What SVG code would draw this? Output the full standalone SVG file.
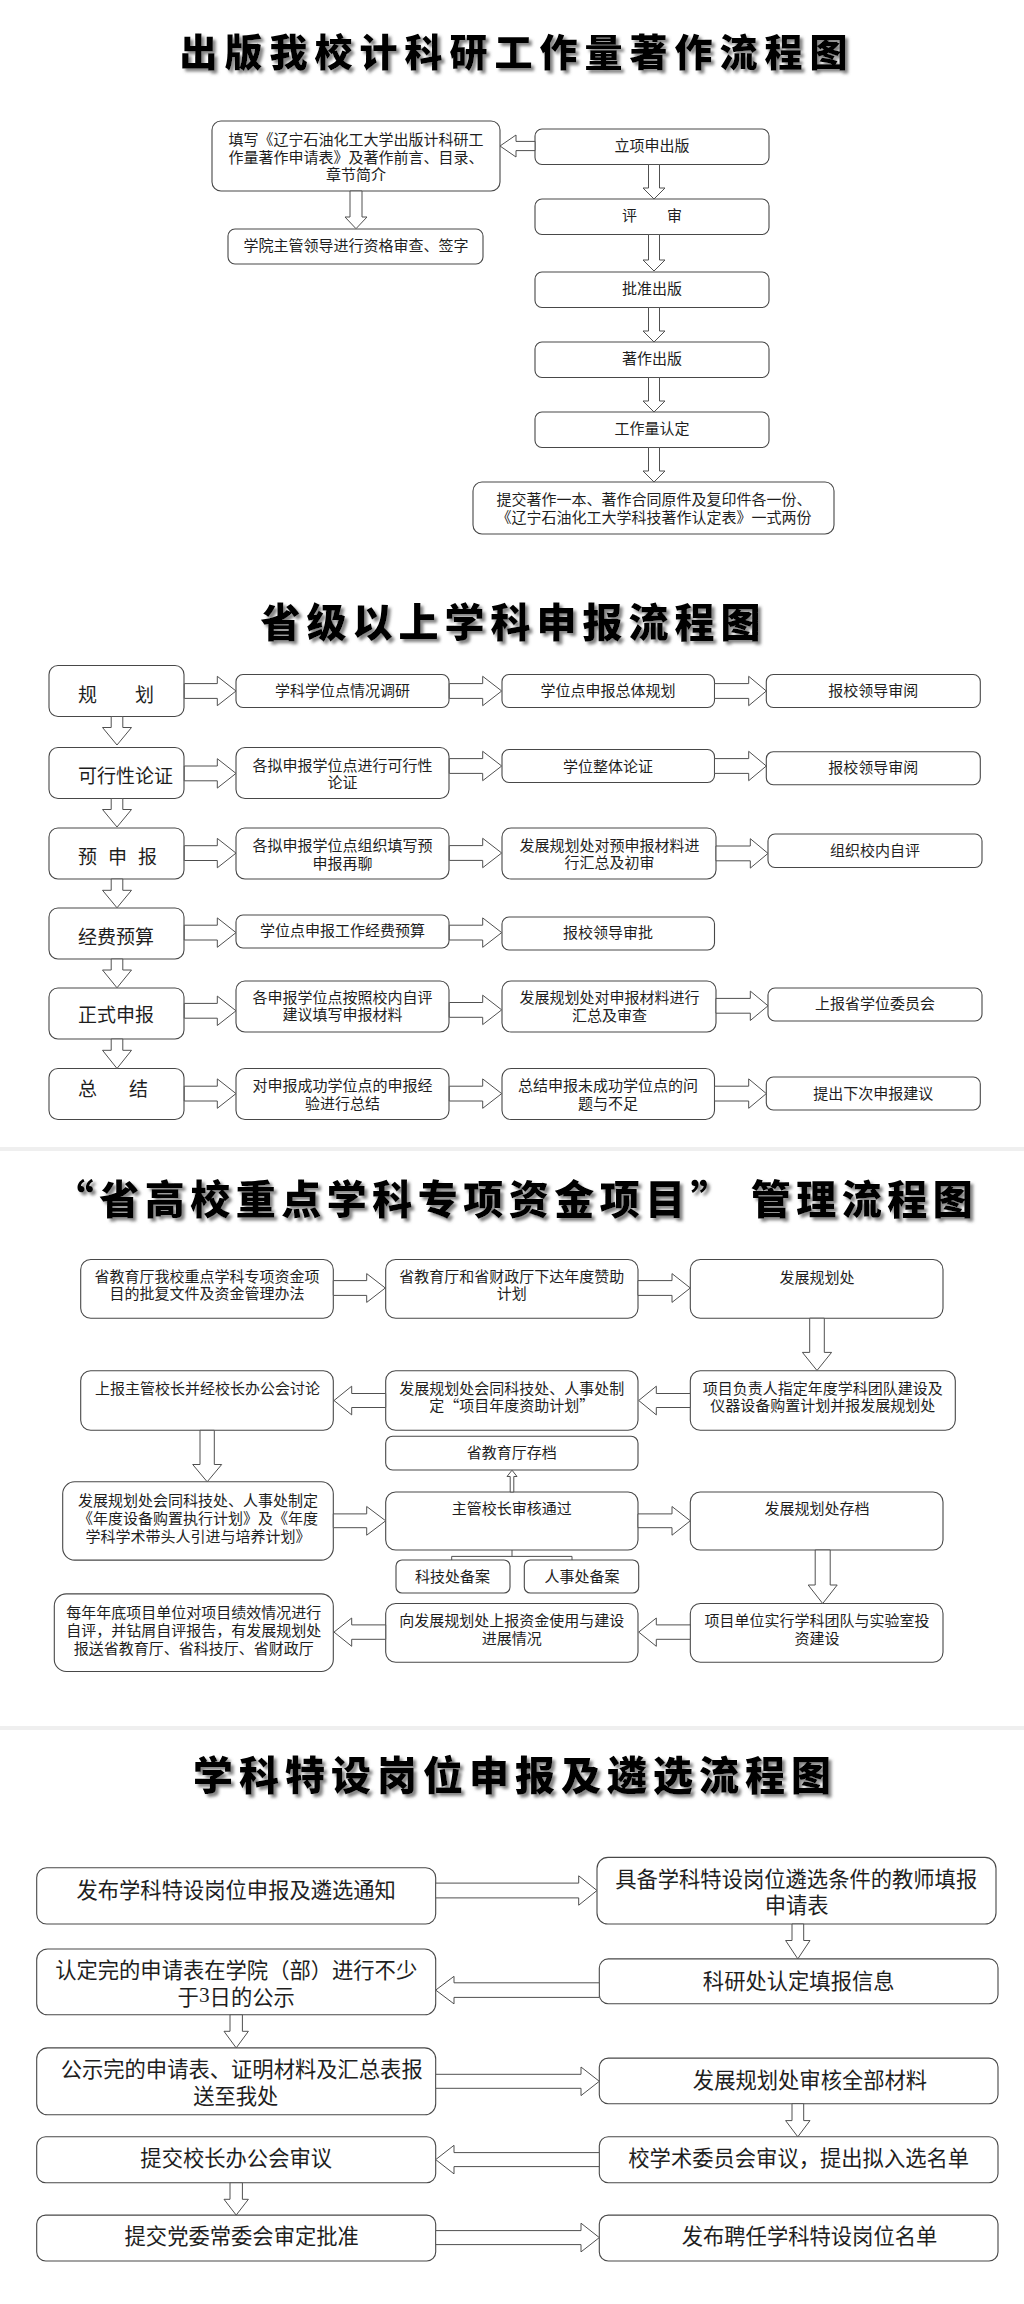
<svg xmlns="http://www.w3.org/2000/svg" width="1024" height="2304" viewBox="0 0 1024 2304">
<defs>
<filter id="sh" x="-5%" y="-20%" width="110%" height="150%">
<feDropShadow dx="3" dy="3" stdDeviation="1.6" flood-color="#777" flood-opacity="0.9"/>
</filter>
<style>
.box{fill:#fff;stroke:#484848;stroke-width:1.1}
.arr{fill:#fff;stroke:#505050;stroke-width:1}
.ln{fill:none;stroke:#505050;stroke-width:1}
text{font-family:"Noto Sans CJK SC","Noto Sans",sans-serif;fill:#1e1e1e;dominant-baseline:central}
.t{font-size:15px;text-anchor:middle}
.t19{font-size:19px;text-anchor:start}
.t21{font-size:21.3px;text-anchor:middle}
.title{font-weight:900;fill:#000;text-anchor:middle;filter:url(#sh)}
.sep{fill:#efefef}
</style>
</defs>
<rect width="1024" height="2304" fill="#fff"/>
<rect class="sep" x="0" y="1147" width="1024" height="4"/>
<rect class="sep" x="0" y="1726" width="1024" height="4"/>

<!-- Section 1 -->
<text class="title" x="517" y="49" font-size="38" letter-spacing="7">出版我校计科研工作量著作流程图</text>
<g id="s1-apply"><rect class="box" x="212" y="121" width="288" height="70" rx="9"/>
<text class="t" x="356" y="138.5">填写《辽宁石油化工大学出版计科研工</text>
<text class="t" x="356" y="156">作量著作申请表》及著作前言、目录、</text>
<text class="t" x="356" y="173.5">章节简介</text></g>
<g id="s1-check"><rect class="box" x="228" y="229" width="255" height="35" rx="7"/><text class="t" x="356" y="244">学院主管领导进行资格审查、签字</text></g>
<g id="s1-start"><rect class="box" x="535" y="129" width="234" height="35.5" rx="7"/><text class="t" x="652" y="144">立项申出版</text></g>
<g id="s1-review"><rect class="box" x="535" y="199" width="234" height="35.5" rx="7"/><text class="t" x="652" y="214">评　　审</text></g>
<g id="s1-approve"><rect class="box" x="535" y="272" width="234" height="35.5" rx="7"/><text class="t" x="652" y="287">批准出版</text></g>
<g id="s1-publish"><rect class="box" x="535" y="342" width="234" height="35.5" rx="7"/><text class="t" x="652" y="357">著作出版</text></g>
<g id="s1-workload"><rect class="box" x="535" y="412" width="234" height="35.5" rx="7"/><text class="t" x="652" y="427">工作量认定</text></g>
<g id="s1-submit"><rect class="box" x="473" y="482" width="361" height="52" rx="9"/>
<text class="t" x="654" y="498">提交著作一本、著作合同原件及复印件各一份、</text>
<text class="t" x="654" y="516">《辽宁石油化工大学科技著作认定表》一式两份</text></g>
<g id="s1-connectors">
<path class="arr" d="M535,141.4 H516 V135 L500,146 L516,157 V150.6 H535 Z"/>
<path class="arr" d="M350,191 V217 H345 L356,228.7 L367,217 H362 V191 Z"/>
<path class="arr" d="M648.5,164.5 V188 H643 L654,199 L665,188 H659.5 V164.5 Z"/>
<path class="arr" d="M648.5,234.5 V260 H643 L654,271 L665,260 H659.5 V234.5 Z"/>
<path class="arr" d="M648.5,307.5 V331 H643 L654,342 L665,331 H659.5 V307.5 Z"/>
<path class="arr" d="M648.5,377.5 V401 H643 L654,412 L665,401 H659.5 V377.5 Z"/>
<path class="arr" d="M648.5,447.5 V471 H643 L654,482 L665,471 H659.5 V447.5 Z"/>
</g>

<!-- Section 2 -->
<text class="title" x="513.5" y="620" font-size="40" letter-spacing="6">省级以上学科申报流程图</text>
<g id="s2-c1r1"><rect class="box" x="49" y="665.5" width="135" height="51" rx="9"/><text class="t19" x="78" y="693">规　　划</text></g>
<g id="s2-c1r2"><rect class="box" x="49" y="747.5" width="135" height="51" rx="9"/><text class="t19" x="78" y="774.5">可行性论证</text></g>
<g id="s2-c1r3"><rect class="box" x="49" y="828" width="135" height="51" rx="9"/><text class="t19" x="78" y="855.3" letter-spacing="-4">预　申　报</text></g>
<g id="s2-c1r4"><rect class="box" x="49" y="908" width="135" height="51" rx="9"/><text class="t19" x="78" y="935.3">经费预算</text></g>
<g id="s2-c1r5"><rect class="box" x="49" y="988" width="135" height="51" rx="9"/><text class="t19" x="78" y="1013">正式申报</text></g>
<g id="s2-c1r6"><rect class="box" x="49" y="1068.5" width="135" height="51" rx="9"/><text class="t19" x="78" y="1087" letter-spacing="-2">总　　结</text></g>

<g id="s2-c2r1"><rect class="box" x="236" y="674.5" width="213" height="33" rx="7"/><text class="t" x="342.5" y="689.6">学科学位点情况调研</text></g>
<g id="s2-c2r2"><rect class="box" x="236" y="747.5" width="213" height="51" rx="9"/><text class="t" x="342.5" y="764.4">各拟申报学位点进行可行性</text><text class="t" x="342.5" y="781.5">论证</text></g>
<g id="s2-c2r3"><rect class="box" x="236" y="828" width="213" height="51" rx="9"/><text class="t" x="342.5" y="844.4">各拟申报学位点组织填写预</text><text class="t" x="342.5" y="862.4">申报再聊</text></g>
<g id="s2-c2r4"><rect class="box" x="236" y="915" width="213" height="33" rx="7"/><text class="t" x="342.5" y="929">学位点申报工作经费预算</text></g>
<g id="s2-c2r5"><rect class="box" x="236" y="981" width="213" height="51" rx="9"/><text class="t" x="342.5" y="996.4">各申报学位点按照校内自评</text><text class="t" x="342.5" y="1013.9">建议填写申报材料</text></g>
<g id="s2-c2r6"><rect class="box" x="236" y="1068.5" width="213" height="51" rx="9"/><text class="t" x="342.5" y="1084.6">对申报成功学位点的申报经</text><text class="t" x="342.5" y="1102">验进行总结</text></g>

<g id="s2-c3r1"><rect class="box" x="502" y="674.5" width="212.5" height="33" rx="7"/><text class="t" x="608" y="689.6">学位点申报总体规划</text></g>
<g id="s2-c3r2"><rect class="box" x="502" y="749.5" width="212.5" height="33" rx="7"/><text class="t" x="608" y="765">学位整体论证</text></g>
<g id="s2-c3r3"><rect class="box" x="502" y="828" width="214" height="51" rx="9"/><text class="t" x="609.5" y="844.4">发展规划处对预申报材料进</text><text class="t" x="609.5" y="861.7">行汇总及初审</text></g>
<g id="s2-c3r4"><rect class="box" x="502" y="917" width="212.5" height="33" rx="7"/><text class="t" x="608" y="931.9">报校领导审批</text></g>
<g id="s2-c3r5"><rect class="box" x="502" y="981" width="214" height="51" rx="9"/><text class="t" x="609.5" y="996.4">发展规划处对申报材料进行</text><text class="t" x="609.5" y="1014">汇总及审查</text></g>
<g id="s2-c3r6"><rect class="box" x="502" y="1068.5" width="212.5" height="51" rx="9"/><text class="t" x="608" y="1084.6">总结申报未成功学位点的问</text><text class="t" x="608" y="1102">题与不足</text></g>

<g id="s2-c4r1"><rect class="box" x="766.3" y="674.5" width="214" height="33" rx="7"/><text class="t" x="873.3" y="689.6">报校领导审阅</text></g>
<g id="s2-c4r2"><rect class="box" x="766.3" y="751.7" width="214" height="33" rx="7"/><text class="t" x="873.3" y="766.4">报校领导审阅</text></g>
<g id="s2-c4r3"><rect class="box" x="768" y="834" width="214" height="33.5" rx="7"/><text class="t" x="875" y="849.2">组织校内自评</text></g>
<g id="s2-c4r5"><rect class="box" x="768" y="988" width="214" height="33" rx="7"/><text class="t" x="875" y="1002.9">上报省学位委员会</text></g>
<g id="s2-c4r6"><rect class="box" x="766.3" y="1077" width="214" height="33" rx="7"/><text class="t" x="873.3" y="1092.2">提出下次申报建议</text></g>

<g id="s2-connectors">
<path class="arr" d="M184.3,683.6 H217.3 V676.3 L236,691 L217.3,705.7 V698.4 H184.3 Z"/>
<path class="arr" d="M184.3,766 H217.3 V758.7 L236,773.4 L217.3,788.1 V780.8 H184.3 Z"/>
<path class="arr" d="M184.3,845.7 H217.3 V838.4 L236,853.1 L217.3,867.8 V860.5 H184.3 Z"/>
<path class="arr" d="M184.3,925.2 H217.3 V917.9 L236,932.6 L217.3,947.3 V940 H184.3 Z"/>
<path class="arr" d="M184.3,1003.4 H217.3 V996.1 L236,1010.8 L217.3,1025.5 V1018.2 H184.3 Z"/>
<path class="arr" d="M184.3,1086.2 H217.3 V1078.9 L236,1093.6 L217.3,1108.3 V1101 H184.3 Z"/>

<path class="arr" d="M449.3,683.6 H482.7 V676.3 L501.7,691 L482.7,705.7 V698.4 H449.3 Z"/>
<path class="arr" d="M449.3,758.6 H482.7 V751.3 L501.7,766 L482.7,780.7 V773.4 H449.3 Z"/>
<path class="arr" d="M449.3,845.6 H482.7 V838.3 L501.7,853 L482.7,867.7 V860.4 H449.3 Z"/>
<path class="arr" d="M449.3,925.2 H482.7 V917.9 L501.7,932.6 L482.7,947.3 V940 H449.3 Z"/>
<path class="arr" d="M449.3,1002.5 H482.7 V995.2 L501.7,1009.9 L482.7,1024.6 V1017.3 H449.3 Z"/>
<path class="arr" d="M449.3,1086.2 H482.7 V1078.9 L501.7,1093.6 L482.7,1108.3 V1101 H449.3 Z"/>

<path class="arr" d="M714.5,683.6 H748.7 V676.3 L766.3,691 L748.7,705.7 V698.4 H714.5 Z"/>
<path class="arr" d="M714.5,758.6 H748.7 V751.3 L766.3,766 L748.7,780.7 V773.4 H714.5 Z"/>
<path class="arr" d="M716,846 H750.3 V838.7 L768,853.4 L750.3,868.1 V860.8 H716 Z"/>
<path class="arr" d="M716,998.4 H750.3 V991.1 L768,1005.8 L750.3,1020.5 V1013.2 H716 Z"/>
<path class="arr" d="M714.5,1086.2 H748.7 V1078.9 L766.3,1093.6 L748.7,1108.3 V1101 H714.5 Z"/>

<path class="arr" d="M111.2,716.5 V727.5 H102.5 L117,745 L131.5,727.5 H122.8 V716.5 Z"/>
<path class="arr" d="M111.2,798.5 V809.5 H102.5 L117,827 L131.5,809.5 H122.8 V798.5 Z"/>
<path class="arr" d="M111.2,879 V890.3 H102.5 L117,907.8 L131.5,890.3 H122.8 V879 Z"/>
<path class="arr" d="M111.2,959 V970 H102.5 L117,987.8 L131.5,970 H122.8 V959 Z"/>
<path class="arr" d="M111.2,1039 V1050.3 H102.5 L117,1068.5 L131.5,1050.3 H122.8 V1039 Z"/>
</g>

<!-- Section 3 -->
<text class="title" x="516" y="1197" font-size="40" letter-spacing="5.5">“省高校重点学科专项资金项目” 管理流程图</text>
<g id="s3-r1b1"><rect class="box" x="80.7" y="1259.5" width="252.6" height="58.7" rx="10"/><text class="t" x="207" y="1275.2">省教育厅我校重点学科专项资金项</text><text class="t" x="207" y="1292.6">目的批复文件及资金管理办法</text></g>
<g id="s3-r1b2"><rect class="box" x="385.7" y="1259.5" width="252.3" height="58.7" rx="10"/><text class="t" x="511.8" y="1275.2">省教育厅和省财政厅下达年度赞助</text><text class="t" x="511.8" y="1292.6">计划</text></g>
<g id="s3-r1b3"><rect class="box" x="690.3" y="1259.5" width="252.7" height="58.7" rx="10"/><text class="t" x="817" y="1276">发展规划处</text></g>
<g id="s3-r2b1"><rect class="box" x="80.7" y="1370.7" width="252.6" height="59.6" rx="10"/><text class="t" x="207.5" y="1387">上报主管校长并经校长办公会讨论</text></g>
<g id="s3-r2b2"><rect class="box" x="385.7" y="1370.7" width="252.3" height="59.6" rx="10"/><text class="t" x="511.8" y="1387">发展规划处会同科技处、人事处制</text><text class="t" x="511.8" y="1404.4">定“项目年度资助计划”</text></g>
<g id="s3-r2b3"><rect class="box" x="690.3" y="1370.7" width="265" height="59.6" rx="10"/><text class="t" x="822.8" y="1387">项目负责人指定年度学科团队建设及</text><text class="t" x="822.8" y="1404.4">仪器设备购置计划并报发展规划处</text></g>
<g id="s3-archive-edu"><rect class="box" x="385.7" y="1436.2" width="252.3" height="33.8" rx="7"/><text class="t" x="511.8" y="1451.6">省教育厅存档</text></g>
<g id="s3-r3b1"><rect class="box" x="62.7" y="1481.8" width="270.6" height="78.3" rx="12"/><text class="t" x="198" y="1499.4">发展规划处会同科技处、人事处制定</text><text class="t" x="198" y="1517.3">《年度设备购置执行计划》及《年度</text><text class="t" x="198" y="1535.6">学科学术带头人引进与培养计划》</text></g>
<g id="s3-r3b2"><rect class="box" x="385.7" y="1492" width="252.3" height="58" rx="10"/><text class="t" x="511.8" y="1507.9">主管校长审核通过</text></g>
<g id="s3-r3b3"><rect class="box" x="690.3" y="1492" width="252.7" height="58" rx="10"/><text class="t" x="817" y="1507.9">发展规划处存档</text></g>
<g id="s3-kjc"><rect class="box" x="396" y="1560" width="114" height="33" rx="6"/><text class="t" x="452.5" y="1575.4">科技处备案</text></g>
<g id="s3-rsc"><rect class="box" x="524.3" y="1560" width="114.4" height="33" rx="6"/><text class="t" x="582" y="1575.4">人事处备案</text></g>
<g id="s3-r4b1"><rect class="box" x="54.3" y="1593.9" width="279" height="77.6" rx="12"/><text class="t" x="193.7" y="1611.2">每年年底项目单位对项目绩效情况进行</text><text class="t" x="193.7" y="1629.6">自评，并钻屑自评报告，有发展规划处</text><text class="t" x="193.7" y="1647">报送省教育厅、省科技厅、省财政厅</text></g>
<g id="s3-r4b2"><rect class="box" x="385.7" y="1603.5" width="252.3" height="58.8" rx="10"/><text class="t" x="511.8" y="1619.3">向发展规划处上报资金使用与建设</text><text class="t" x="511.8" y="1637">进展情况</text></g>
<g id="s3-r4b3"><rect class="box" x="690.3" y="1603.5" width="252.7" height="58.8" rx="10"/><text class="t" x="817" y="1619.3">项目单位实行学科团队与实验室投</text><text class="t" x="817" y="1637">资建设</text></g>
<g id="s3-connectors">
<path class="arr" d="M333.3,1280.6 H366.7 V1273.6 L385.3,1288 L366.7,1302.4 V1295.4 H333.3 Z"/>
<path class="arr" d="M638,1280.6 H672 V1273.6 L690.3,1288 L672,1302.4 V1295.4 H638 Z"/>
<path class="arr" d="M809.7,1318.2 V1352.4 H802.4 L817,1370.5 L831.6,1352.4 H824.3 V1318.2 Z"/>
<path class="arr" d="M690.3,1393.5 H656.3 V1386.2 L638.7,1400.5 L656.3,1414.9 V1407.5 H690.3 Z"/>
<path class="arr" d="M385.7,1393.5 H351.7 V1386.2 L334,1400.5 L351.7,1414.9 V1407.5 H385.7 Z"/>
<path class="arr" d="M200,1430.3 V1464.5 H192.7 L207.2,1481.8 L221.7,1464.5 H214.3 V1430.3 Z"/>
<path class="arr" d="M333.3,1513.9 H366.7 V1506.5 L385.7,1520.8 L366.7,1535.2 V1527.7 H333.3 Z"/>
<path class="arr" d="M638,1513.9 H672 V1506.5 L690.3,1520.8 L672,1535.2 V1527.7 H638 Z"/>
<path class="arr" d="M510.2,1492 V1476.5 H507 L512,1470.2 L517,1476.5 H513.8 V1492 Z"/>
<path class="ln" d="M512,1550 V1556.4 M451.7,1560 V1556.4 H572 V1560"/>
<path class="arr" d="M815.2,1550 V1585 H808.2 L822.7,1603.5 L837.2,1585 H830.2 V1550 Z"/>
<path class="arr" d="M690.3,1624.9 H656.3 V1618 L638.7,1632.1 L656.3,1646.3 V1639.3 H690.3 Z"/>
<path class="arr" d="M385.7,1624.9 H351.7 V1618 L334,1632.1 L351.7,1646.3 V1639.3 H385.7 Z"/>
</g>

<!-- Section 4 -->
<text class="title" x="515" y="1773" font-size="40" letter-spacing="6">学科特设岗位申报及遴选流程图</text>
<g id="s4-l1"><rect class="box" x="36.7" y="1867.7" width="399" height="56.3" rx="10"/><text class="t21" x="236.2" y="1888.3">发布学科特设岗位申报及遴选通知</text></g>
<g id="s4-l2"><rect class="box" x="36.7" y="1949" width="399" height="65.8" rx="11"/><text class="t21" x="236.2" y="1968.5">认定完的申请表在学院（部）进行不少</text><text class="t21" x="236.2" y="1995.2">于<tspan font-family="Liberation Serif">3</tspan>日的公示</text></g>
<g id="s4-l3"><rect class="box" x="36.7" y="2047.9" width="399" height="66.9" rx="11"/><text class="t21" x="241.7" y="2067.6">公示完的申请表、证明材料及汇总表报</text><text class="t21" x="235.8" y="2094">送至我处</text></g>
<g id="s4-l4"><rect class="box" x="36.7" y="2136.8" width="399" height="46" rx="9"/><text class="t21" x="236.2" y="2156.6">提交校长办公会审议</text></g>
<g id="s4-l5"><rect class="box" x="36.7" y="2215.1" width="399" height="45.9" rx="9"/><text class="t21" x="241.7" y="2234.8">提交党委常委会审定批准</text></g>
<g id="s4-r1"><rect class="box" x="597" y="1857.4" width="399" height="66.6" rx="11"/><text class="t21" x="796.2" y="1877.2">具备学科特设岗位遴选条件的教师填报</text><text class="t21" x="796.7" y="1903.8">申请表</text></g>
<g id="s4-r2"><rect class="box" x="599.3" y="1958.9" width="398.7" height="44.8" rx="9"/><text class="t21" x="798.7" y="1979.5">科研处认定填报信息</text></g>
<g id="s4-r3"><rect class="box" x="599.3" y="2058.1" width="398.7" height="45.6" rx="9"/><text class="t21" x="810" y="2078.8">发展规划处审核全部材料</text></g>
<g id="s4-r4"><rect class="box" x="599.3" y="2136.8" width="398.7" height="46" rx="9"/><text class="t21" x="798.7" y="2156.6">校学术委员会审议，提出拟入选名单</text></g>
<g id="s4-r5"><rect class="box" x="599.3" y="2215.1" width="398.7" height="45.9" rx="9"/><text class="t21" x="809.5" y="2234.8">发布聘任学科特设岗位名单</text></g>
<g id="s4-connectors">
<path class="arr" d="M435.7,1883.1 H578.7 V1875.8 L597,1890.5 L578.7,1905.2 V1897.9 H435.7 Z"/>
<path class="arr" d="M792,1924 V1940.5 H785.6 L797.8,1958.9 L810,1940.5 H803.7 V1924 Z"/>
<path class="arr" d="M599.3,1982.8 H454 V1976.3 L435.7,1990.1 L454,2003.9 V1997.4 H599.3 Z"/>
<path class="arr" d="M230,2014.8 V2031.3 H224 L236.2,2047.9 L248.4,2031.3 H242.4 V2014.8 Z"/>
<path class="arr" d="M435.7,2074.3 H581 V2067 L599.3,2081.3 L581,2095.6 V2088.3 H435.7 Z"/>
<path class="arr" d="M792,2103.7 V2120.6 H785.6 L797.8,2136.8 L810,2120.6 H803.7 V2103.7 Z"/>
<path class="arr" d="M599.3,2152.6 H454 V2145.3 L435.7,2159.6 L454,2173.9 V2166.6 H599.3 Z"/>
<path class="arr" d="M230,2182.8 V2199.3 H224 L236.2,2215.1 L248.4,2199.3 H242.4 V2182.8 Z"/>
<path class="arr" d="M435.7,2230.6 H581 V2223.2 L599.3,2237.6 L581,2251.9 V2244.6 H435.7 Z"/>
</g>
</svg>
